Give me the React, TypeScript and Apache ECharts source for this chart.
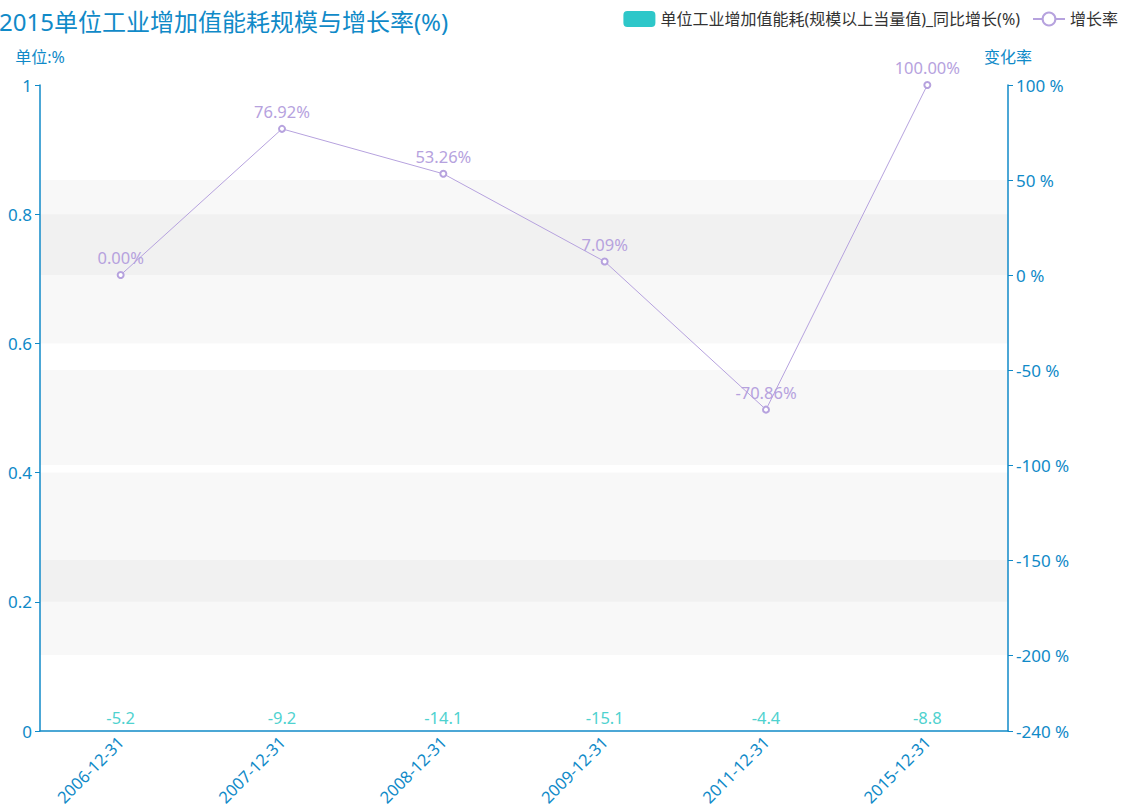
import React, { useEffect, useRef } from "react";
import * as echarts from "echarts";

const categories = ["2006-12-31", "2007-12-31", "2008-12-31", "2009-12-31", "2011-12-31", "2015-12-31"];
const barValues = [-5.2, -9.2, -14.1, -15.1, -4.4, -8.8];
const growthValues = [0.0, 76.92, 53.26, 7.09, -70.86, 100.0];
const barName = "单位工业增加值能耗(规模以上当量值)_同比增长(%)";
const lineName = "增长率";
const titleText = "2015单位工业增加值能耗规模与增长率(%)";

const AXIS_BLUE = "#108ac8";
const FONT = '"Noto Sans", "Noto Sans CJK SC", sans-serif';
const splitAreaCfg = {
  show: true,
  areaStyle: { color: ["rgba(255,255,255,0)", "rgba(200,200,200,0.12)"] },
};

export default function App() {
  const ref = useRef<HTMLDivElement>(null);
  useEffect(() => {
    document.body.style.margin = "0";
    const chart = echarts.init(ref.current!, null, { renderer: "svg" });
    chart.setOption({
      animation: false,
      textStyle: { fontFamily: FONT },
      title: {
        text: titleText,
        left: -6,
        top: 4,
        textStyle: { color: AXIS_BLUE, fontSize: 24, fontWeight: "normal", fontFamily: FONT },
      },
      legend: {
        right: 2,
        top: 6,
        itemWidth: 32,
        itemHeight: 16,
        itemGap: 12,
        textStyle: { fontSize: 16, color: "#333", fontFamily: FONT },
        data: [
          { name: barName, icon: "roundRect" },
          { name: lineName },
        ],
      },
      grid: { left: 40, right: 117, top: 85, bottom: 79 },
      xAxis: {
        type: "category",
        data: categories,
        axisLine: { lineStyle: { color: AXIS_BLUE, width: 1.5 } },
        axisTick: { lineStyle: { color: AXIS_BLUE } },
        axisLabel: { rotate: 45, color: AXIS_BLUE, fontSize: 16.5, margin: 8 },
      },
      yAxis: [
        {
          type: "value",
          name: "单位:%",
          min: 0,
          max: 1,
          nameGap: 20,
          nameTextStyle: { color: AXIS_BLUE, fontSize: 16 },
          axisLine: { show: true, lineStyle: { color: AXIS_BLUE, width: 1.5 } },
          axisTick: { show: true, lineStyle: { color: AXIS_BLUE } },
          axisLabel: { color: AXIS_BLUE, fontSize: 17 },
          splitLine: { show: false },
          splitArea: splitAreaCfg,
        },
        {
          type: "value",
          name: "变化率",
          min: -240,
          max: 100,
          nameGap: 20,
          nameTextStyle: { color: AXIS_BLUE, fontSize: 16 },
          axisLine: { show: true, lineStyle: { color: AXIS_BLUE, width: 1.5 } },
          axisTick: { show: true, lineStyle: { color: AXIS_BLUE } },
          axisLabel: { color: AXIS_BLUE, fontSize: 17, formatter: "{value} %" },
          splitLine: { show: false },
          splitArea: splitAreaCfg,
        },
      ],
      series: [
        {
          name: barName,
          type: "bar",
          yAxisIndex: 0,
          data: barValues,
          itemStyle: { color: "#2ec7c9", borderRadius: 4 },
          label: { show: true, position: "top", color: "#4fd2cf", fontSize: 16.5 },
        },
        {
          name: lineName,
          type: "line",
          yAxisIndex: 1,
          data: growthValues,
          symbol: "emptyCircle",
          symbolSize: 6,
          itemStyle: { color: "#b6a2de" },
          lineStyle: { color: "#b6a2de", width: 1 },
          label: {
            show: true,
            position: "top",
            color: "#b6a2de",
            fontSize: 16.5,
            formatter: (p: any) => p.value.toFixed(2) + "%",
          },
        },
      ],
    });
    return () => chart.dispose();
  }, []);
  return <div ref={ref} style={{ width: 1125, height: 810 }} />;
}
